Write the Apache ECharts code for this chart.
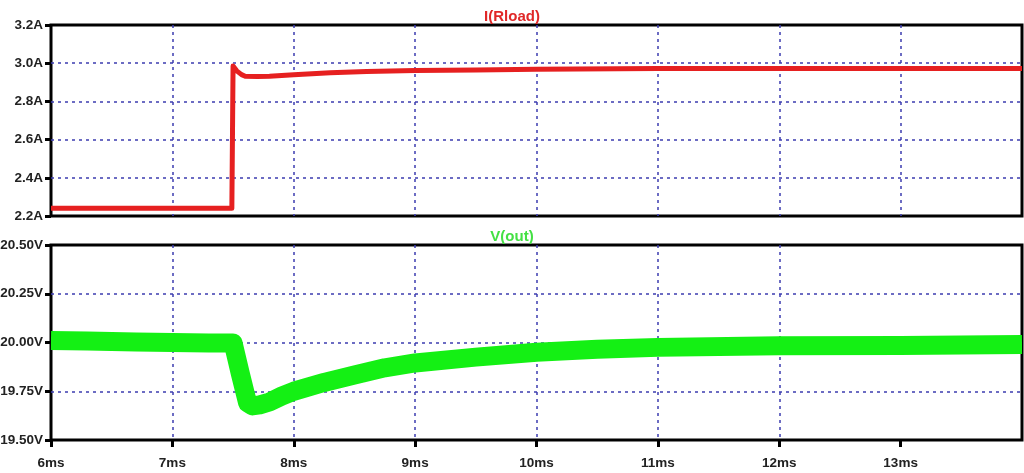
<!DOCTYPE html>
<html>
<head>
<meta charset="utf-8">
<script src="https://cdn.jsdelivr.net/npm/echarts@6/dist/echarts.min.js"></script>
<style>
html,body{margin:0;padding:0;background:#fff;}
#c{width:1024px;height:473px;}
</style>
</head>
<body>
<div id="c"></div>
<script>
// ---- data ----
const timeI = [6.0, 6.5, 7.0, 7.49, 7.5, 7.53, 7.57, 7.6, 7.7, 7.8, 8.0, 8.3, 8.6, 9.0, 9.5, 10.0, 11.0, 12.0, 13.0, 14.0];
const iRload = [2.24, 2.24, 2.24, 2.24, 2.985, 2.96, 2.94, 2.932, 2.93, 2.932, 2.94, 2.95, 2.957, 2.962, 2.965, 2.968, 2.972, 2.972, 2.972, 2.972];

const timeV = [6.0, 6.3, 6.7, 7.0, 7.3, 7.5, 7.56, 7.62, 7.66, 7.72, 7.8, 7.9, 8.0, 8.25, 8.5, 8.75, 9.0, 9.5, 10.0, 10.5, 11.0, 12.0, 13.0, 14.0];
const vOut = [20.01, 20.008, 20.003, 20.0, 19.998, 19.998, 19.84, 19.69, 19.675, 19.68, 19.695, 19.725, 19.75, 19.795, 19.833, 19.87, 19.895, 19.925, 19.95, 19.965, 19.975, 19.983, 19.985, 19.99];

const xTicksMs = [6, 7, 8, 9, 10, 11, 12, 13];
const titleTop = 'I(Rload)';
const titleBottom = 'V(out)';

// ---- chart ----
const chart = echarts.init(document.getElementById('c'));
const FONT = 'Liberation Sans';
const gridLine = {show: true, showMinLine: false, showMaxLine: false,
  lineStyle: {color: '#3c3cb0', width: 1.5, type: [3, 4]}};
const xBase = {
  type: 'value', min: 6, max: 14, interval: 1,
  splitLine: gridLine,
  axisLine: {show: false},
};
const pair = (t, v) => t.map((x, i) => [x, v[i]]);
const lbl = {color: '#222', fontSize: 13.5, fontWeight: 'bold', fontFamily: FONT};

chart.setOption({
  animation: false,
  backgroundColor: '#fff',
  title: [
    {text: titleTop, left: 'center', top: 4, textStyle: {color: '#e02828', fontSize: 15, fontWeight: 'bold', fontFamily: FONT}},
    {text: titleBottom, left: 'center', top: 224, textStyle: {color: '#44e044', fontSize: 15, fontWeight: 'bold', fontFamily: FONT}}
  ],
  grid: [
    {left: 51, right: 2, top: 25, height: 191, show: true, borderColor: '#000', borderWidth: 3,
      backgroundColor: 'transparent', outerBoundsMode: 'none', containLabel: false},
    {left: 51, right: 2, top: 245, height: 195, show: true, borderColor: '#000', borderWidth: 3,
      backgroundColor: 'transparent', outerBoundsMode: 'none', containLabel: false}
  ],
  xAxis: [
    Object.assign({}, xBase, {gridIndex: 0, axisTick: {show: false}, axisLabel: {show: false}}),
    Object.assign({}, xBase, {
      gridIndex: 1,
      axisTick: {show: true, length: 7, lineStyle: {color: '#000', width: 3}, inside: false,
        customValues: xTicksMs},
      axisLabel: Object.assign({show: true, margin: 16, customValues: xTicksMs,
        formatter: v => (xTicksMs.indexOf(v) >= 0 ? v + 'ms' : '')}, lbl)
    })
  ],
  yAxis: [
    {type: 'value', gridIndex: 0, min: 2.2, max: 3.2, interval: 0.2,
      splitLine: gridLine, axisLine: {show: false},
      axisTick: {show: true, length: 6, lineStyle: {color: '#000', width: 3}},
      axisLabel: Object.assign({margin: 8, formatter: v => v.toFixed(1) + 'A'}, lbl)},
    {type: 'value', gridIndex: 1, min: 19.5, max: 20.5, interval: 0.25,
      splitLine: gridLine, axisLine: {show: false},
      axisTick: {show: true, length: 6, lineStyle: {color: '#000', width: 3}},
      axisLabel: Object.assign({margin: 8, formatter: v => v.toFixed(2) + 'V'}, lbl)}
  ],
  series: [
    {type: 'line', xAxisIndex: 0, yAxisIndex: 0, data: pair(timeI, iRload), showSymbol: false,
      lineStyle: {color: '#e62020', width: 5, join: 'round'}, z: 3},
    {type: 'line', xAxisIndex: 1, yAxisIndex: 1, data: pair(timeV, vOut), showSymbol: false,
      lineStyle: {color: '#14f014', width: 19, join: 'round', cap: 'butt'}, z: 3}
  ]
});
</script>
</body>
</html>
